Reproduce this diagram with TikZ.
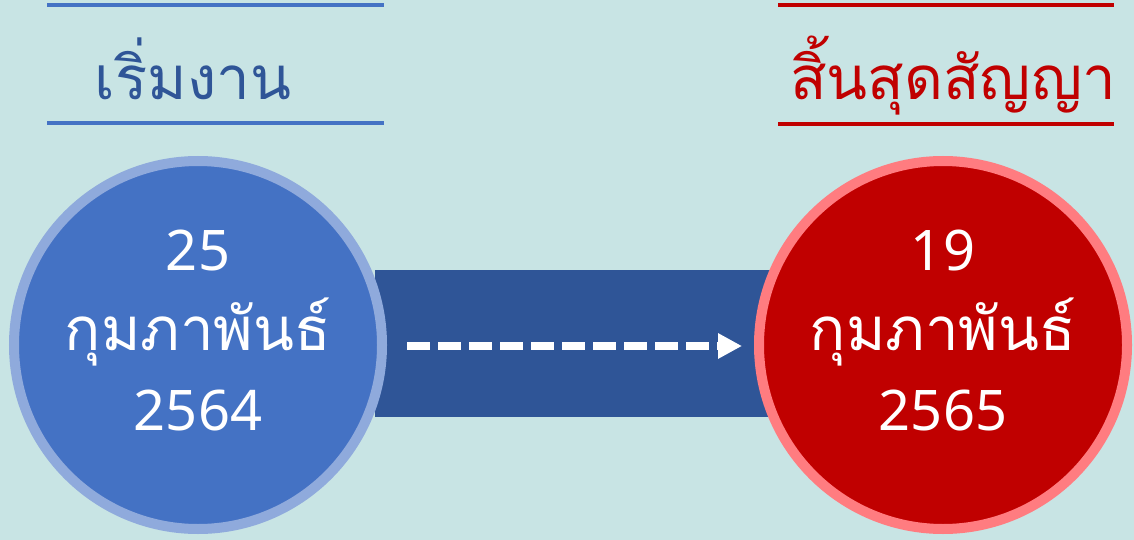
\documentclass[tikz,border=0pt]{standalone}
\usepackage{fontspec}
\usetikzlibrary{arrows.meta}
\newfontfamily\thaifont[Script=Thai]{Loma}
\newfontfamily\digitfont{Noto Sans}
\definecolor{bgteal}{RGB}{200,228,228}
\definecolor{darkblue}{RGB}{47,85,151}
\definecolor{midblue}{RGB}{68,114,196}
\definecolor{ringblue}{RGB}{143,170,220}
\definecolor{darkred}{RGB}{192,0,0}
\definecolor{ringred}{RGB}{255,124,128}
\tikzset{
  rule/.style={line width=4pt},
  title/.style={font=\thaifont\fontsize{60}{72}\selectfont, anchor=base},
  datetext/.style={font=\thaifont\fontsize{60}{72}\selectfont, text=white, anchor=base},
  datenum/.style={font=\digitfont\fontsize{56}{66}\selectfont, text=white, anchor=base},
  disc/.style={circle, minimum size=368pt, line width=10pt, inner sep=0pt},
}
\begin{document}
\begin{tikzpicture}[x=1pt,y=-1pt]
\fill[bgteal] (0,0) rectangle (1134,540);
\useasboundingbox (0,0) rectangle (1134,540);
% connecting band
\fill[darkblue] (375,270) rectangle (775,417);
% circles
\node[disc, fill=midblue, draw=ringblue] (start) at (198,345) {};
\node[disc, fill=darkred, draw=ringred] (end) at (943,345) {};
% arrow
\coordinate (arrowstart) at (407,346);
\coordinate (arrowend) at (742,346);
\draw[white, line width=8pt, dash pattern=on 23pt off 8pt, -{Triangle[length=24pt,width=24pt]}] (arrowstart) -- (arrowend);
% titles and rules
\draw[rule, midblue] (47,5) -- (384,5);
\draw[rule, midblue] (47,123) -- (384,123);
\node[title, text=darkblue] (starttitle) at (193,100) {เริ่มงาน};
\draw[rule, darkred] (778,5) -- (1114,5);
\draw[rule, darkred] (778,124) -- (1114,124);
\node[title, text=darkred] (endtitle) at (953,100) {สิ้นสุดสัญญา};
% dates
\node[datenum] (sday) at (198,270) {25};
\node[datetext] (smonth) at (198,350) {กุมภาพันธ์};
\node[datenum] (syear) at (198,430) {2564};
\node[datenum] (eday) at (943,270) {19};
\node[datetext] (emonth) at (943,350) {กุมภาพันธ์};
\node[datenum] (eyear) at (943,430) {2565};
\end{tikzpicture}
\end{document}
